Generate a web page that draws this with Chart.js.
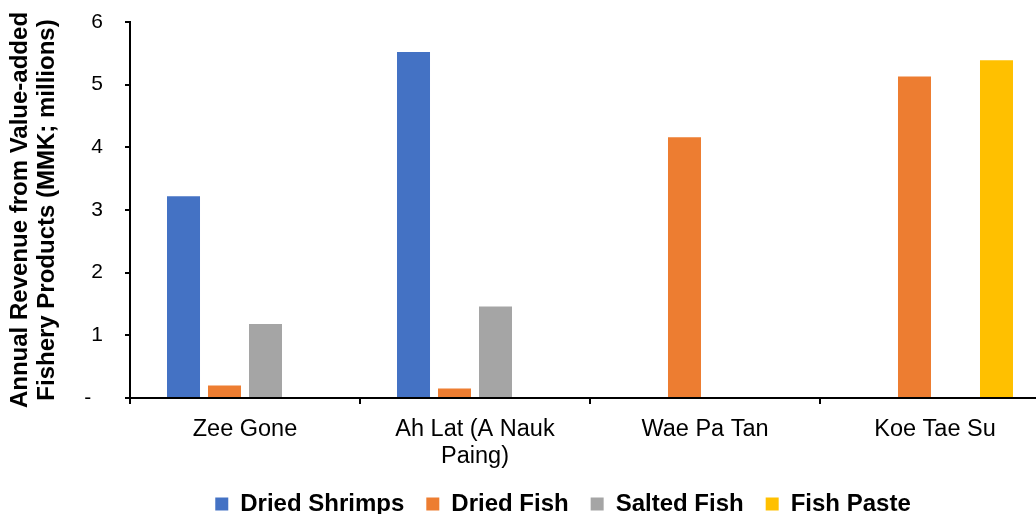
<!DOCTYPE html>
<html>
<head>
<meta charset="utf-8">
<script src="https://cdn.jsdelivr.net/npm/chart.js@4/dist/chart.umd.min.js"></script>
<style>
  html, body { margin: 0; padding: 0; background: #fff; overflow: hidden; width: 1036px; height: 514px; }
  #wrap { position: absolute; left: 0; top: 0; width: 1126px; height: 526px; }
</style>
</head>
<body>
<div id="wrap"><canvas id="chart"></canvas></div>
<script>
// Villages surveyed
const villages = ['Zee Gone', ['Ah Lat (A Nauk', 'Paing)'], 'Wae Pa Tan', 'Koe Tae Su'];

// Annual revenue per product (MMK, millions); null = product not made there
const driedShrimps = [3.22, 5.52, null, null];
const driedFish    = [0.20, 0.15, 4.16, 5.13];
const saltedFish   = [1.18, 1.46, null, null];
const fishPaste    = [null, null, null, 5.39];

const yTicks = [0, 1, 2, 3, 4, 5, 6];

const FONT = "'Liberation Sans', Arial, sans-serif";

new Chart(document.getElementById('chart'), {
  type: 'bar',
  data: {
    labels: villages,
    datasets: [
      { label: 'Dried Shrimps', data: driedShrimps, backgroundColor: '#4472C4' },
      { label: 'Dried Fish',    data: driedFish,    backgroundColor: '#ED7D31' },
      { label: 'Salted Fish',   data: saltedFish,   backgroundColor: '#A5A5A5' },
      { label: 'Fish Paste',    data: fishPaste,    backgroundColor: '#FFC000' }
    ]
  },
  options: {
    responsive: true,
    maintainAspectRatio: false,
    animation: false,
    datasets: { bar: { categoryPercentage: 0.713, barPercentage: 0.805 } },
    layout: { padding: { top: 22, right: 0, bottom: 0, left: 0 } },
    plugins: {
      tooltip: { enabled: false },
      legend: {
        position: 'bottom',
        labels: {
          color: '#000',
          font: { family: FONT, size: 24, weight: 'bold' },
          boxWidth: 13,
          boxHeight: 13,
          padding: 22
        }
      }
    },
    scales: {
      x: {
        afterFit: s => { s.height = 72; },
        border: { display: true, color: '#000', width: 2 },
        grid: { display: true, drawOnChartArea: false, color: '#000', lineWidth: 2, tickLength: 6, offset: true },
        ticks: {
          color: '#000',
          font: { family: FONT, size: 23.5, lineHeight: 1.15 },
          padding: 12,
          maxRotation: 0,
          autoSkip: false
        }
      },
      y: {
        min: 0,
        max: 6,
        afterFit: s => { s.width = 130; s.paddingTop = 0; s.paddingBottom = 0; },
        afterBuildTicks: s => { s.ticks = yTicks.map(v => ({ value: v })); },
        border: { display: true, color: '#000', width: 2 },
        grid: { display: true, drawOnChartArea: false, color: '#000', lineWidth: 2, tickLength: 5 },
        ticks: {
          color: '#000',
          font: { family: FONT, size: 21 },
          padding: 22,
          callback: v => (v === 0 ? '-  ' : String(v))
        },
        title: {
          display: true,
          text: ['Annual Revenue from Value-added', 'Fishery Products (MMK; millions)'],
          color: '#000',
          font: { family: FONT, size: 24, weight: 'bold', lineHeight: 1.12 },
          padding: { top: 7, bottom: 0 }
        }
      },
      // empty margin on the right of the plot
      yRight: {
        position: 'right',
        display: true,
        afterFit: s => { s.width = 76; },
        grid: { display: false },
        border: { display: false },
        ticks: { display: false }
      }
    }
  }
});
</script>
</body>
</html>
